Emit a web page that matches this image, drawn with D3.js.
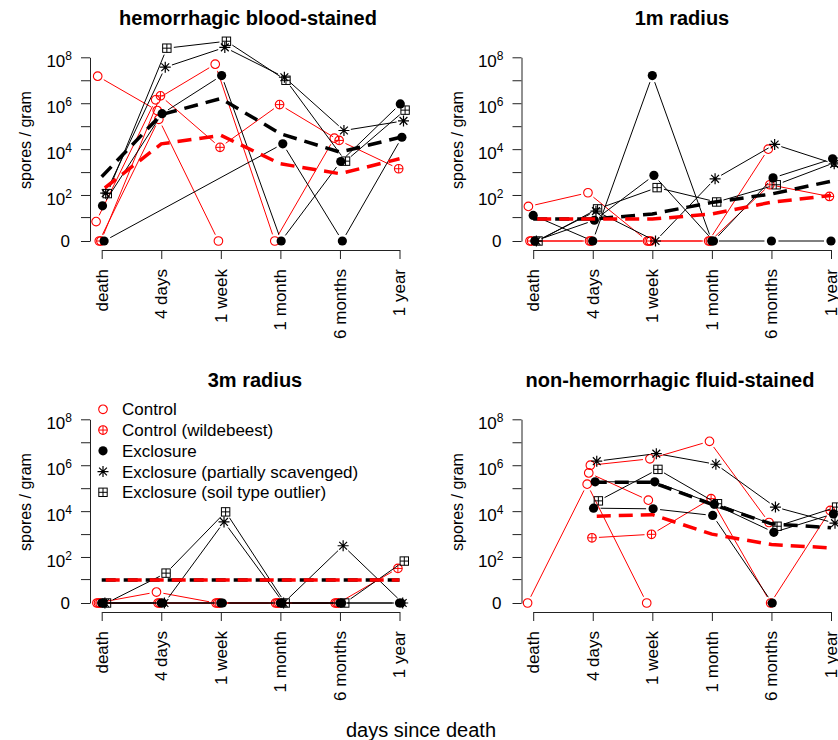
<!DOCTYPE html>
<html>
<head>
<meta charset="utf-8">
<script src="https://cdn.jsdelivr.net/npm/d3@7"></script>
<style>
  body { margin: 0; background: #fff; }
  svg { display: block; font-family: 'Liberation Sans', Arial, Helvetica, sans-serif; }
</style>
</head>
<body>
<div id="chart"></div>
<script>
const times = ['death', '4 days', '1 week', '1 month', '6 months', '1 year'];
const kinds = ['control', 'wildebeest', 'exclosure', 'scavenged', 'soil'];
const legendLabels = [
  'Control',
  'Control (wildebeest)',
  'Exclosure',
  'Exclosure (partially scavenged)',
  'Exclosure (soil type outlier)',
];

const blood = {
  control: [
    [6, 1.4e6, 5e7, 0, 3e4, null],
    [1.5e7, 4.8e5, null, null, null, null],
    [0, 2e5, 0, null, null, null],
  ],
  wildebeest: [[0, 2.1e6, 1.2e4, 8.7e5, 2.4e4, 1.4e3]],
  exclosure: [
    [33, 3.5e5, 1.6e7, 0, 2.9e3, 9.3e5],
    [0, null, null, 1.7e4, 0, 3.3e4],
  ],
  scavenged: [[120, 3.7e7, 2.7e8, 1.35e7, 6.5e4, 1.7e5]],
  soil: [[115, 2.5e8, 5e8, 1e7, 3e3, 5e5]],
  meanExclosure: [630, 3.2e5, 1.6e6, 4.7e4, 7.4e3, 3.2e4],
  meanControl: [160, 1.7e4, 4e4, 2.3e3, 850, 3.8e3],
};

const radius1 = {
  control: [
    [31, 125, 0, null, null, null],
    [0, 0, 0, 0, 1e4, null],
  ],
  wildebeest: [[0, 0, 0, 0, 280, 86]],
  exclosure: [
    [12, 0, 1.6e7, 0, 0, 0],
    [0, 7, 720, 0, 560, 3.8e3],
  ],
  scavenged: [[0, 19, 0, 510, 1.6e4, 2.3e3]],
  soil: [[0, 24, 210, 49, 280, 2.7e3]],
  meanExclosure: [8, 8, 14, 47, 110, 400],
  meanControl: [8, 8, 8, 14, 48, 95],
};

const radius3 = {
  control: [
    [0, 2, 0, 0, 0, null],
    [0, 0, 0, 0, 0, null],
  ],
  wildebeest: [[0, 0, 0, 0, 0, 31]],
  exclosure: [
    [0, 0, 0, 0, 0, 0],
    [0, 0, 0, 0, 0, 0],
  ],
  scavenged: [[0, 0, 3.4e3, 0, 310, 0]],
  soil: [[0, 19, 9.3e3, 0, 0, 66]],
  meanExclosure: [9, 9, 9, 9, 9, 9],
  meanControl: [9, 9, 9, 9, 9, 9],
};

const fluid = {
  control: [
    [0, 1.5e5, 0, null, null, null],
    [null, 4.6e5, 3e4, null, null, null],
    [null, 1e6, 1.9e6, 1.1e7, 3.2e3, null],
  ],
  wildebeest: [[null, 690, 980, 3.5e4, 0, 1.07e4]],
  exclosure: [
    [null, 1.35e4, 1.26e4, 6.5e3, 0, null],
    [null, 1.9e5, 1.9e5, 2e4, 1.2e3, 7.6e3],
  ],
  scavenged: [[null, 1.5e6, 3.2e6, 1.1e6, 1.5e4, 3e3]],
  soil: [[null, 2.8e4, 6.6e5, 2.1e4, 2.2e3, 1.5e4]],
  meanExclosure: [null, 1.8e5, 1.8e5, 2e4, 2.8e3, 1.9e3],
  meanControl: [null, 6e3, 7e3, 1e3, 350, 250],
};

// Layout
const width = 838,
  height = 740;
const colStep = 431.5,
  rowStep = 362;
const red = '#ff0000';

const panels = [
  { title: 'hemorrhagic blood-stained', data: blood, col: 0, row: 0, titleX: 248 },
  { title: '1m radius', data: radius1, col: 1, row: 0, titleX: 682 },
  { title: '3m radius', data: radius3, col: 0, row: 1, titleX: 255, legend: true },
  { title: 'non-hemorrhagic fluid-stained', data: fluid, col: 1, row: 1, titleX: 670 },
];

const svg = d3
  .select('#chart')
  .append('svg')
  .attr('xmlns', 'http://www.w3.org/2000/svg')
  .attr('width', width)
  .attr('height', height);

svg.append('rect').attr('width', width).attr('height', height).attr('fill', '#fff');

// R style point symbols
const drawSymbol = (g, kind, x, y) => {
  const s = g.append('g').attr('transform', `translate(${x},${y})`);
  if (kind === 'control' || kind === 'wildebeest') {
    s.append('circle').attr('r', 4.3).attr('fill', 'none').attr('stroke', red).attr('stroke-width', 1.1);
    if (kind === 'wildebeest') {
      s.append('path').attr('d', 'M-4.3,0H4.3M0,-4.3V4.3').attr('stroke', red).attr('stroke-width', 1);
    }
  } else if (kind === 'exclosure') {
    s.append('circle').attr('r', 4.6).attr('fill', '#000');
  } else if (kind === 'scavenged') {
    s.append('path')
      .attr('d', 'M-5.5,0H5.5M0,-5.5V5.5M-3.9,-3.9L3.9,3.9M-3.9,3.9L3.9,-3.9')
      .attr('stroke', '#000')
      .attr('stroke-width', 1.2);
  } else {
    s.append('rect')
      .attr('x', -4.2).attr('y', -4.2).attr('width', 8.4).attr('height', 8.4)
      .attr('fill', 'none').attr('stroke', '#000').attr('stroke-width', 1);
    s.append('path').attr('d', 'M-4.2,0H4.2M0,-4.2V4.2').attr('stroke', '#000').attr('stroke-width', 1);
  }
};

// type = "b": segments that stop short of the points
const gapSegments = (pts, gap) => {
  const segs = [];
  for (let i = 1; i < pts.length; i++) {
    const a = pts[i - 1],
      b = pts[i];
    const dx = b[0] - a[0],
      dy = b[1] - a[1];
    const len = Math.hypot(dx, dy);
    if (len <= 2 * gap) continue;
    const ux = dx / len,
      uy = dy / len;
    segs.push([a[0] + ux * gap, a[1] + uy * gap, b[0] - ux * gap, b[1] - uy * gap]);
  }
  return segs;
};

panels.forEach((p) => {
  const ox = p.col * colStep,
    oy = p.row * rowStep;
  const g = svg.append('g');

  const x = d3.scalePoint().domain(times).range([101.7 + ox, 399.5 + ox]);
  const y = d3.scaleSymlog().constant(1).domain([0, 1e8]).range([241 + oy, 57.3 + oy]);

  // title
  g.append('text')
    .attr('x', p.titleX)
    .attr('y', 25 + oy)
    .attr('text-anchor', 'middle')
    .attr('font-weight', 'bold')
    .attr('font-size', 20)
    .text(p.title);

  // y axis
  const yTicks = d3.range(0, 9).map((k) => (k === 0 ? 0 : Math.pow(10, k)));
  g.append('g')
    .attr('transform', `translate(${90 + ox},0)`)
    .call(d3.axisLeft(y).tickValues(yTicks).tickSize(9).tickSizeOuter(0).tickFormat(''))
    .call((a) => a.selectAll('path, line').attr('stroke', '#222'));

  yTicks.forEach((v, k) => {
    if (k % 2) return;
    const t = g
      .append('text')
      .attr('text-anchor', 'end')
      .attr('font-size', 17)
      .attr('x', (k === 0 ? 70 : 72) + ox)
      .attr('y', y(v) + (k === 0 ? 6 : 10));
    if (k === 0) {
      t.text('0');
    } else {
      t.append('tspan').text('10');
      t.append('tspan').attr('font-size', 12).attr('dy', -7).text(k);
    }
  });

  g.append('text')
    .attr('transform', `translate(${31 + ox},${140 + oy}) rotate(-90)`)
    .attr('text-anchor', 'middle')
    .attr('font-size', 16)
    .text('spores / gram');

  // x axis
  g.append('g')
    .attr('transform', `translate(0,${250 + oy})`)
    .call(d3.axisBottom(x).tickSize(9).tickSizeOuter(0).tickFormat(''))
    .call((a) => a.selectAll('path, line').attr('stroke', '#222'));

  g.selectAll('.xlab')
    .data(times)
    .join('text')
    .attr('class', 'xlab')
    .attr('transform', (d) => `translate(${x(d)},${269 + oy}) rotate(-90)`)
    .attr('text-anchor', 'end')
    .attr('dy', '0.35em')
    .attr('font-size', 17)
    .text((d) => d);

  // individual carcasses, controls first
  const series = [];
  kinds.forEach((kind) => {
    p.data[kind].forEach((vals) => series.push({ kind, vals }));
  });
  const n = series.length;
  series.forEach((s, i) => {
    const dx = (i - (n - 1) / 2) * 1.6;
    const pts = s.vals
      .map((v, j) => (v === null ? null : [x(times[j]) + dx, y(v)]))
      .filter((d) => d !== null);
    const col = s.kind === 'control' || s.kind === 'wildebeest' ? red : '#000';
    g.append('g')
      .selectAll('line')
      .data(gapSegments(pts, 7))
      .join('line')
      .attr('x1', (d) => d[0])
      .attr('y1', (d) => d[1])
      .attr('x2', (d) => d[2])
      .attr('y2', (d) => d[3])
      .attr('stroke', col)
      .attr('stroke-width', 1);
    pts.forEach((pt) => drawSymbol(g, s.kind, pt[0], pt[1]));
  });

  // group means, thick dashed
  const line = d3
    .line()
    .defined((d) => d !== null)
    .x((d, j) => x(times[j]))
    .y((d) => y(d));
  g.append('path')
    .attr('d', line(p.data.meanExclosure))
    .attr('fill', 'none')
    .attr('stroke', '#000')
    .attr('stroke-width', 3.5)
    .attr('stroke-dasharray', '14,8');
  g.append('path')
    .attr('d', line(p.data.meanControl))
    .attr('fill', 'none')
    .attr('stroke', red)
    .attr('stroke-width', 3.5)
    .attr('stroke-dasharray', '14,8')
    .attr('stroke-dashoffset', -4);

  if (p.legend) {
    const lg = g.append('g');
    kinds.forEach((kind, i) => {
      const ly = 409.3 + i * 20.75;
      drawSymbol(lg, kind, 103 + ox, ly);
      lg.append('text')
        .attr('x', 122 + ox)
        .attr('y', ly)
        .attr('dy', '0.36em')
        .attr('font-size', 17)
        .text(legendLabels[i]);
    });
  }
});

svg.append('text')
  .attr('x', 421)
  .attr('y', 737)
  .attr('text-anchor', 'middle')
  .attr('font-size', 20)
  .text('days since death');
</script>
</body>
</html>
